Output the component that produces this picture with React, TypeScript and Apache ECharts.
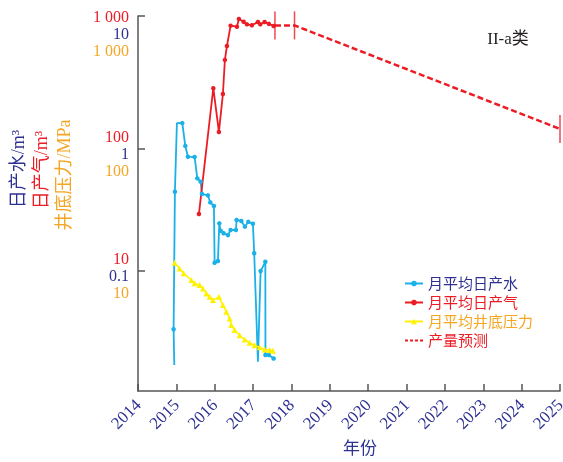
import React, { useEffect, useRef } from "react";
import * as echarts from "echarts";

// ---- data (decimal year, value) ----
const waterX = [2014.946, 2014.928, 2014.962, 2015.014, 2015.155, 2015.233, 2015.301, 2015.476, 2015.546, 2015.632, 2015.666, 2015.822, 2015.885, 2015.979, 2015.997, 2016.083, 2016.119, 2016.153, 2016.231, 2016.344, 2016.414, 2016.552, 2016.57, 2016.693, 2016.787, 2016.875, 2016.995, 2017.029, 2017.126, 2017.196, 2017.319, 2017.322, 2017.412, 2017.535];
const waterY = [0.017, 0.0333, 0.447, 1.63, 1.63, 1.06, 0.865, 0.86, 0.575, 0.54, 0.428, 0.417, 0.365, 0.341, 0.117, 0.121, 0.246, 0.214, 0.204, 0.197, 0.217, 0.217, 0.262, 0.257, 0.231, 0.253, 0.244, 0.14, 0.0181, 0.1, 0.119, 0.0205, 0.0205, 0.0192];
const waterHiddenMarks = [0, 3, 28];

const gasX = [2015.588, 2015.963, 2016.109, 2016.213, 2016.265, 2016.318, 2016.414, 2016.578, 2016.63, 2016.753, 2016.839, 2016.969, 2017.126, 2017.188, 2017.3, 2017.412, 2017.535];
const gasY = [29.3, 315, 138, 282, 537, 698, 1025, 1005, 1164, 1105, 1051, 1032, 1099, 1051, 1099, 1060, 1019];

const pressX = [2014.954, 2015.084, 2015.189, 2015.389, 2015.476, 2015.606, 2015.692, 2015.781, 2015.867, 2015.953, 2016.109, 2016.213, 2016.302, 2016.388, 2016.432, 2016.518, 2016.649, 2016.779, 2016.909, 2017.04, 2017.17, 2017.3, 2017.431, 2017.517];
const pressY = [11.7, 10.5, 9.58, 8.44, 7.93, 7.68, 7.21, 6.56, 6.15, 5.78, 6.15, 5.26, 4.64, 4.09, 3.61, 3.28, 2.98, 2.75, 2.58, 2.47, 2.37, 2.28, 2.25, 2.22];

const predX = [2017.57, 2018.08, 2025];
const predY = [1030, 1030, 146];

// ---- axis ticks / labels ----
const yTickValues = [10, 100, 1230];
const gasTickLabels = ["10", "100", "1 000"];
const waterTickLabels = ["0.1", "1", "10"];
const pressTickLabels = ["10", "100", "1 000"];

const seriesNames = ["月平均日产水", "月平均日产气", "月平均井底压力", "产量预测"];

const RED = "#ec1c24";
const NAVY = "#2e3192";
const ORANGE = "#f5a623";
const CYAN = "#1ab0e8";
const YELLOW = "#fff200";
const AXIS = "#555555";
const SERIF = "'Liberation Serif','Times New Roman','Noto Sans CJK SC',serif";

export default function App() {
  const ref = useRef<HTMLDivElement>(null);

  useEffect(() => {
    if (!ref.current) return;
    const chart = echarts.init(ref.current, undefined, { renderer: "svg" });

    const water = waterX.map((x, i) =>
      waterHiddenMarks.includes(i)
        ? { value: [x, waterY[i]], symbol: "none" }
        : { value: [x, waterY[i]] }
    );
    const gas = gasX.map((x, i) => [x, gasY[i]]);
    const press = pressX.map((x, i) => [x, pressY[i]]);
    const pred = predX.map((x, i) => [x, predY[i]]);

    const labelFor = (v: number) => {
      let idx = 0;
      let best = Infinity;
      yTickValues.forEach((t, i) => {
        const d = Math.abs(Math.log10(v) - Math.log10(t));
        if (d < best) {
          best = d;
          idx = i;
        }
      });
      if (best > 0.05) return "";
      const pre = idx === yTickValues.length - 1 ? "{et| }" : "{e| }";
      return `${pre}\n{r|${gasTickLabels[idx]}}\n{b|${waterTickLabels[idx]}}\n{y|${pressTickLabels[idx]}}`;
    };

    chart.setOption({
      animation: false,
      grid: {
        left: 138,
        right: 3,
        top: 16,
        bottom: 71,
        containLabel: false,
        outerBoundsMode: "none",
      },
      legend: {
        orient: "vertical",
        left: 399,
        top: 271,
        itemWidth: 18,
        itemHeight: 7,
        itemGap: 4,
        textStyle: { fontSize: 15, fontFamily: SERIF },
        data: [
          { name: seriesNames[0], textStyle: { color: NAVY } },
          { name: seriesNames[1], textStyle: { color: RED } },
          { name: seriesNames[2], textStyle: { color: ORANGE } },
          {
            name: seriesNames[3],
            textStyle: { color: RED },
            itemStyle: { opacity: 0 },
            lineStyle: { type: [3, 2], width: 2, color: RED },
          },
        ],
      },
      xAxis: {
        type: "value",
        min: 2014,
        max: 2025,
        interval: 1,
        axisLine: { show: true, lineStyle: { color: AXIS, width: 1.5 } },
        axisTick: { show: true, inside: true, length: 7, lineStyle: { color: AXIS, width: 1.5 } },
        splitLine: { show: false },
        axisLabel: {
          rotate: 45,
          margin: 11,
          color: NAVY,
          fontSize: 17,
          fontFamily: SERIF,
          formatter: (v: number) => String(v),
        },
      },
      yAxis: [
        {
          type: "log",
          logBase: 10,
          min: 1.04,
          max: 1230,
          position: "left",
          axisLine: { show: true, lineStyle: { color: AXIS, width: 1.5 } },
          axisTick: {
            show: true,
            inside: true,
            length: 7,
            lineStyle: { color: AXIS, width: 1.5 },
            customValues: yTickValues,
          },
          splitLine: { show: false },
          minorTick: { show: false },
          axisLabel: {
            margin: 9,
            customValues: yTickValues,
            formatter: (v: number) => labelFor(v),
            rich: {
              e: { lineHeight: 8, fontSize: 8 },
              et: { lineHeight: 34, fontSize: 8 },
              r: { color: RED, fontSize: 16, lineHeight: 17, fontFamily: SERIF, align: "right" },
              b: { color: NAVY, fontSize: 16, lineHeight: 17, fontFamily: SERIF, align: "right" },
              y: { color: ORANGE, fontSize: 16, lineHeight: 17, fontFamily: SERIF, align: "right" },
            },
          },
        },
        {
          type: "log",
          logBase: 10,
          min: 0.0104,
          max: 12.3,
          show: false,
          splitLine: { show: false },
        },
      ],
      graphic: [
        {
          type: "text",
          x: 17.5,
          y: 169,
          rotation: Math.PI / 2,
          style: { text: "日产水/m³", fill: NAVY, font: `18px ${SERIF}`, align: "center", verticalAlign: "middle" },
        },
        {
          type: "text",
          x: 41,
          y: 170,
          rotation: Math.PI / 2,
          style: { text: "日产气/m³", fill: RED, font: `18px ${SERIF}`, align: "center", verticalAlign: "middle" },
        },
        {
          type: "text",
          x: 63.5,
          y: 175,
          rotation: Math.PI / 2,
          style: { text: "井底压力/MPa", fill: ORANGE, font: `18px ${SERIF}`, align: "center", verticalAlign: "middle" },
        },
        {
          type: "text",
          x: 508,
          y: 38,
          style: { text: "II-a类", fill: "#231f20", font: `17px ${SERIF}`, align: "center", verticalAlign: "middle" },
        },
        {
          type: "text",
          x: 360,
          y: 448,
          style: { text: "年份", fill: NAVY, font: `17px ${SERIF}`, align: "center", verticalAlign: "middle" },
        },
      ],
      series: [
        {
          name: seriesNames[0],
          type: "line",
          yAxisIndex: 1,
          data: water,
          symbol: "circle",
          symbolSize: 4.5,
          itemStyle: { color: CYAN },
          lineStyle: { color: CYAN, width: 1.8 },
        },
        {
          name: seriesNames[1],
          type: "line",
          yAxisIndex: 0,
          data: gas,
          symbol: "circle",
          symbolSize: 4.5,
          itemStyle: { color: RED },
          lineStyle: { color: RED, width: 1.8 },
        },
        {
          name: seriesNames[2],
          type: "line",
          yAxisIndex: 0,
          data: press,
          symbol: "triangle",
          symbolSize: 6,
          itemStyle: { color: YELLOW },
          lineStyle: { color: YELLOW, width: 1.5 },
        },
        {
          name: seriesNames[3],
          type: "line",
          yAxisIndex: 0,
          data: pred,
          symbol: "none",
          itemStyle: { color: RED },
          lineStyle: { color: RED, width: 2.5, type: [6, 3] },
        },
        {
          name: "预测节点",
          type: "scatter",
          yAxisIndex: 0,
          data: pred,
          symbol: "rect",
          symbolSize: [1.5, 28],
          itemStyle: { color: RED },
          silent: true,
        },
      ],
    });

    return () => chart.dispose();
  }, []);

  return (
    <div
      ref={ref}
      style={{ position: "fixed", left: 0, top: 0, width: 563, height: 462 }}
    />
  );
}
